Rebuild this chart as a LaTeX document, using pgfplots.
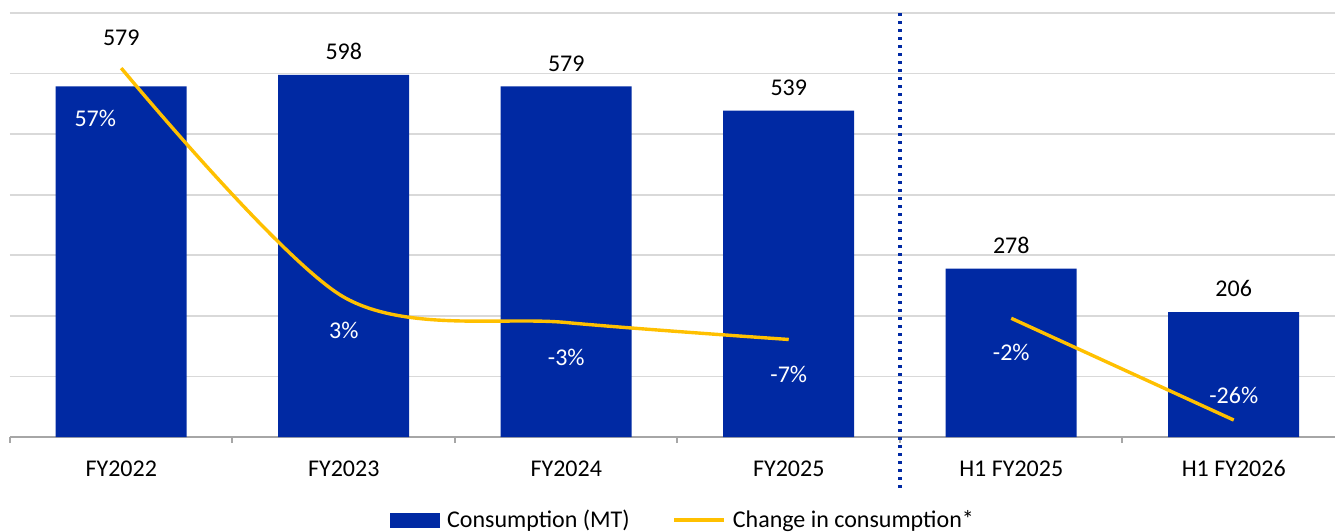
\documentclass[border=0pt]{standalone}
\usepackage{fontspec}
\setmainfont{Carlito}
\usepackage{pgfplots}
\usepackage{pgfplotstable}
\pgfplotsset{compat=1.18}

\definecolor{barblue}{RGB}{0,41,163}
\definecolor{linegold}{RGB}{255,192,0}
\definecolor{gridgrey}{RGB}{217,217,217}
\definecolor{axisgrey}{RGB}{166,166,166}

% consumption (MT); dy = extra lift of the value label (pt)
\pgfplotstableread{
x y dy
0 579 17
1 598 4
2 579 4
3 539 4
4 278 4
5 206 4
}\consumption

% change in consumption (%), full years; dx/dy = label offset (pt)
\pgfplotstableread{
x y lab dx dy
0 57 57 -13 -25
1 3 3 0 -16.5
2 -3 -3 0 -17.2
3 -7 -7 0 -17.7
}\changefy

% change in consumption (%), half years
\pgfplotstableread{
x y lab dx dy
4 -2 -2 0 -17.3
5 -26 -26 0 12.5
}\changeh

\pgfplotsset{
  linelegend/.style={legend image code/.code={\draw[linegold, line width=1.6pt] (0pt,0pt) -- (25pt,0pt);}},
  every axis/.append style={font=\fontsize{12}{14}\selectfont},
}

\begin{document}
\begin{tikzpicture}[font=\fontsize{12}{14}\selectfont]
\begin{axis}[
  scale only axis, width=667.5pt, height=212pt,
  xmin=-0.5, xmax=5.5, ymin=0, ymax=700,
  axis x line*=bottom, axis y line*=left,
  y axis line style={draw=none},
  x axis line style={axisgrey, line width=1pt},
  xtick={0,...,5},
  xticklabels={FY2022,FY2023,FY2024,FY2025,H1 FY2025,H1 FY2026},
  minor xtick={-0.5,0.5,...,5.5},
  major x tick style={draw=none},
  minor x tick style={axisgrey, line width=1pt},
  minor tick length=3pt,
  tick align=outside,
  ytick={100,200,...,700},
  yticklabels={},
  major y tick style={draw=none},
  ymajorgrids, grid style={gridgrey, line width=0.8pt},
  xticklabel style={anchor=north, yshift=-4pt},
  clip=false,
  legend style={draw=none, fill=none, at={(0.5,0)}, anchor=center,
    yshift=-41.5pt, xshift=3pt, legend columns=2,
    /tikz/every odd column/.append style={column sep=2pt},
    /tikz/every even column/.append style={column sep=20pt},
    nodes={inner sep=1.5pt}},
  legend cell align=left,
]
\addplot[ybar, bar width=65.5pt, fill=barblue, draw=none,
  point meta=explicit symbolic, nodes near coords,
  visualization depends on={\thisrow{dy} \as \labdy},
  every node near coord/.append style={anchor=south, yshift=\labdy pt, text=black},
  legend image code/.code={\fill[barblue] (0pt,-3.75pt) rectangle (25pt,3.75pt);}]
  table[x=x, y=y, meta=y] {\consumption};
\addlegendentry{Consumption (MT)}
\addlegendimage{linelegend}
\addlegendentry{Change in consumption*}

% separator between full-year and half-year figures
\draw[barblue, line width=1.75pt, dash pattern=on 1.7pt off 2.3pt]
  (axis cs:3.5,700) -- (axis cs:3.5,-84);
\end{axis}

\begin{axis}[
  scale only axis, width=667.5pt, height=212pt,
  xmin=-0.5, xmax=5.5, ymin=-30, ymax=70,
  hide axis, clip=false,
]
\addplot[linegold, line width=1.7pt, smooth,
  point meta=explicit symbolic, nodes near coords={\pgfplotspointmeta\%},
  visualization depends on={\thisrow{dx} \as \labdx},
  visualization depends on={\thisrow{dy} \as \labdy},
  every node near coord/.append style={anchor=center, xshift=\labdx pt, yshift=\labdy pt, text=white}]
  table[x=x, y=y, meta=lab] {\changefy};
\addplot[linegold, line width=1.7pt, smooth,
  point meta=explicit symbolic, nodes near coords={\pgfplotspointmeta\%},
  visualization depends on={\thisrow{dx} \as \labdx},
  visualization depends on={\thisrow{dy} \as \labdy},
  every node near coord/.append style={anchor=center, xshift=\labdx pt, yshift=\labdy pt, text=white}]
  table[x=x, y=y, meta=lab] {\changeh};
\end{axis}

\pgfresetboundingbox
\path[use as bounding box] ([shift={(-5pt,-47pt)}]current axis.south west) rectangle ++(667.5pt,265.5pt);
\end{tikzpicture}
\end{document}
